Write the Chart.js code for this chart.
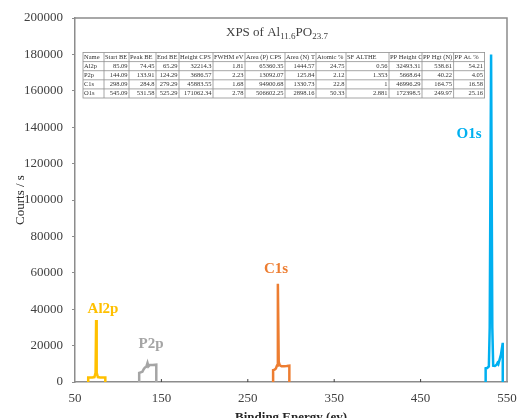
<!DOCTYPE html>
<html>
<head>
<meta charset="utf-8">
<script src="https://cdn.jsdelivr.net/npm/chart.js@4.4.1/dist/chart.umd.min.js"></script>
<style>
  body { margin: 0; background: #fff; }
</style>
</head>
<body>
<canvas id="chartXps" width="518" height="418"></canvas>
<script>
// spectrum traces (binding energy in eV, counts / s)
const al2pEnergy = [65.29, 65.29, 70, 72.5, 73.8, 74.45, 75.1, 76.5, 79, 85.09, 85.09];
const al2pCounts = [0, 2500, 2500, 2700, 5000, 34000, 5000, 2700, 2500, 2500, 0];

const p2pEnergy = [124.29, 124.29, 126, 128, 129.5, 131, 132.5, 133.91, 135, 136.5, 140, 144.09, 144.09];
const p2pCounts = [0, 5000, 5300, 5600, 7000, 8000, 8300, 10500, 8600, 9300, 9300, 9500, 0];

const c1sEnergy = [279.29, 279.29, 281, 282.5, 283.8, 284.8, 285.8, 287, 289, 292, 295, 298.09, 298.09];
const c1sCounts = [0, 6500, 6800, 7400, 9000, 54000, 11000, 9200, 8600, 8700, 8800, 9000, 0];

const o1sEnergy = [525.29, 525.29, 527, 529, 530, 531.58, 533, 534, 536, 538, 539, 540, 543, 545.09, 545.09];
const o1sCounts = [0, 7500, 7700, 8500, 30000, 180000, 30000, 9000, 8800, 9500, 10500, 9800, 15000, 21500, 0];

const peakNames = ['Al2p', 'P2p', 'C1s', 'O1s'];
const peakColors = ['#FFC000', '#A5A5A5', '#ED7D31', '#00B0F0'];

const xTicks = [50, 150, 250, 350, 450, 550];

// quantification table shown inside the plot
const tableHeader = ['Name', 'Start BE', 'Peak BE', 'End BE', 'Height CPS', 'FWHM eV', 'Area (P) CPS',
  'Area (N) T', 'Atomic %', 'SF ALTHE', 'PP Height CPS', 'PP Hgt (N)', 'PP At. %'];
const rowAl2p = ['Al2p', '85.09', '74.45', '65.29', '32214.3', '1.81', '65360.35', '1444.57', '24.75', '0.56', '32493.31', '538.61', '54.21'];
const rowP2p = ['P2p', '144.09', '133.91', '124.29', '3686.57', '2.23', '13092.07', '125.84', '2.12', '1.353', '5668.64', '40.22', '4.05'];
const rowC1s = ['C1s', '298.09', '284.8', '279.29', '45883.55', '1.68', '94900.68', '1330.73', '22.8', '1', '46996.29', '164.75', '16.58'];
const rowO1s = ['O1s', '545.09', '531.58', '525.29', '171062.34', '2.78', '506602.25', '2898.16', '50.33', '2.881', '172398.5', '249.97', '25.16'];

function toPoints(xs, ys) {
  return xs.map((v, i) => ({ x: v, y: ys[i] }));
}

const serif = "'Liberation Serif', 'Times New Roman', serif";
Chart.defaults.font.family = serif;
Chart.defaults.color = '#404040';

const frameColor = '#8c8c8c';

const xpsDecor = {
  id: 'xpsDecor',
  afterDatasetsDraw(chart) {
    const { ctx, chartArea: a, scales: { x, y } } = chart;
    ctx.save();

    // top and right frame
    ctx.strokeStyle = frameColor;
    ctx.lineWidth = 1.5;
    ctx.beginPath();
    ctx.moveTo(a.left, a.top);
    ctx.lineTo(a.right, a.top);
    ctx.lineTo(a.right, a.bottom);
    ctx.stroke();

    // small inward ticks on the energy axis
    ctx.lineWidth = 1;
    ctx.strokeStyle = '#404040';
    xTicks.slice(1, -1).forEach((v) => {
      const px = x.getPixelForValue(v);
      ctx.beginPath();
      ctx.moveTo(px, a.bottom);
      ctx.lineTo(px, a.bottom - 3);
      ctx.stroke();
    });

    // peak labels
    const labelAt = [[82.4, 40100], [138, 20900], [282.6, 62100], [506, 136000]];
    ctx.font = 'bold 15px ' + serif;
    ctx.textAlign = 'center';
    ctx.textBaseline = 'middle';
    peakNames.forEach((name, i) => {
      ctx.fillStyle = peakColors[i];
      ctx.fillText(name, x.getPixelForValue(labelAt[i][0]), y.getPixelForValue(labelAt[i][1]));
    });

    // title with subscripts
    const parts = [['XPS of Al', false], ['11.6', true], ['PO', false], ['23.7', true]];
    ctx.fillStyle = '#404040';
    ctx.textAlign = 'left';
    ctx.textBaseline = 'alphabetic';
    let tx = 226;
    parts.forEach(([txt, sub]) => {
      ctx.font = (sub ? '9px ' : '13px ') + serif;
      ctx.fillText(txt, tx, sub ? 39 : 36);
      tx += ctx.measureText(txt).width;
    });

    // table
    const colW = [21, 25, 27, 23, 34, 32, 40, 31, 30, 43, 33, 31.6, 31];
    const tLeft = 83, tTop = 52.5, rowH = 9.1;
    const tRight = tLeft + colW.reduce((s, w) => s + w, 0);
    const rows = [tableHeader, rowAl2p, rowP2p, rowC1s, rowO1s];
    const tBottom = tTop + rowH * rows.length;
    ctx.strokeStyle = '#8f8f8f';
    ctx.lineWidth = 0.8;
    ctx.strokeRect(tLeft, tTop, tRight - tLeft, tBottom - tTop);
    for (let r = 1; r < rows.length; r++) {
      ctx.beginPath();
      ctx.moveTo(tLeft, tTop + r * rowH);
      ctx.lineTo(tRight, tTop + r * rowH);
      ctx.stroke();
    }
    let cx = tLeft;
    ctx.font = '6.5px ' + serif;
    ctx.textBaseline = 'middle';
    ctx.fillStyle = '#333';
    colW.forEach((w, c) => {
      if (c > 0) {
        ctx.beginPath();
        ctx.moveTo(cx, tTop);
        ctx.lineTo(cx, tBottom);
        ctx.stroke();
      }
      rows.forEach((row, r) => {
        const cy = tTop + r * rowH + rowH / 2;
        ctx.save();
        ctx.beginPath();
        ctx.rect(cx, tTop + r * rowH, w, rowH);
        ctx.clip();
        if (r === 0 || c === 0) {
          ctx.textAlign = 'left';
          ctx.fillText(row[c], cx + 1, cy);
        } else {
          ctx.textAlign = 'right';
          ctx.fillText(row[c], cx + w - 1.5, cy);
        }
        ctx.restore();
      });
      cx += w;
    });

    ctx.restore();
  }
};

const datasets = [
  [al2pEnergy, al2pCounts],
  [p2pEnergy, p2pCounts],
  [c1sEnergy, c1sCounts],
  [o1sEnergy, o1sCounts],
].map(([xs, ys], i) => ({
  label: peakNames[i],
  data: toPoints(xs, ys),
  borderColor: peakColors[i],
  backgroundColor: peakColors[i],
  borderWidth: 2.5,
  pointRadius: 0,
  tension: 0,
  fill: false,
}));

const ctx = document.getElementById('chartXps').getContext('2d');
const chartXps = new Chart(ctx, {
  type: 'line',
  data: { datasets: datasets },
  options: {
    responsive: false,
    animation: false,
    layout: { padding: { top: 18, right: 11, left: 0, bottom: 0 } },
    plugins: {
      legend: { display: false },
      tooltip: { enabled: false },
    },
    scales: {
      x: {
        type: 'linear',
        min: 50,
        max: 550,
        afterBuildTicks: (scale) => {
          scale.ticks = xTicks.map((v) => ({ value: v }));
        },
        afterFit: (scale) => {
          scale.height = 36;
          scale.paddingLeft = 0;
          scale.paddingRight = 0;
        },
        grid: { display: false, drawTicks: false },
        border: { display: true, color: frameColor, width: 1.5 },
        ticks: { padding: 9, font: { size: 13 }, color: '#404040', maxRotation: 0 },
        title: {
          display: true,
          text: 'Binding Energy (ev)',
          font: { size: 13, weight: 'bold' },
          color: '#262626',
          padding: { top: 0, bottom: -7 },
        },
      },
      y: {
        min: 0,
        max: 200000,
        afterFit: (scale) => { scale.width = 75; },
        grid: { drawOnChartArea: false, drawTicks: true, tickLength: 3, color: frameColor },
        border: { display: true, color: frameColor, width: 1.5 },
        ticks: { stepSize: 20000, padding: 9, font: { size: 13 }, color: '#404040', callback: (v) => String(v) },
        title: {
          display: true,
          text: 'Courts / s',
          font: { size: 13 },
          color: '#262626',
          padding: { top: 13 },
        },
      },
    },
  },
  plugins: [xpsDecor],
});
</script>
</body>
</html>
